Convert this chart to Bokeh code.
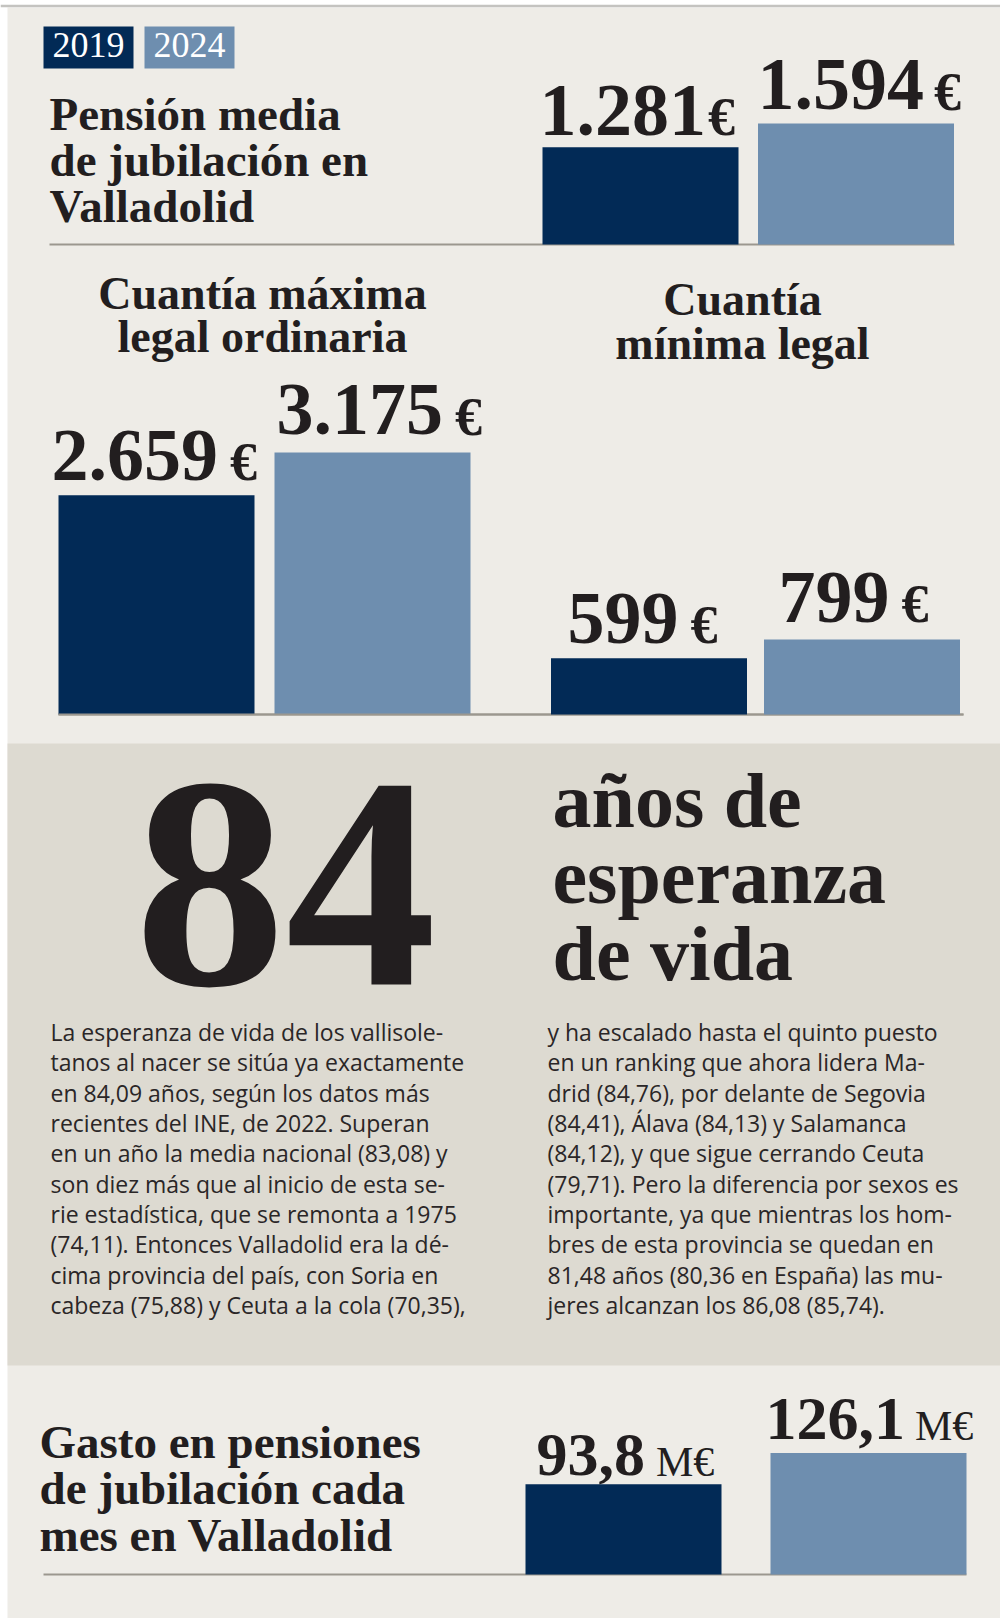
from bokeh.plotting import figure
from bokeh.models import Range1d, ColumnDataSource
from bokeh.core.properties import value
from bokeh.embed import file_html
from bokeh.resources import INLINE

# ---------------- data ----------------
years = ["2019", "2024"]
pension_media = [1281, 1594]          # €
cuantia_maxima = [2659, 3175]         # €
cuantia_minima = [599, 799]           # €
gasto_mensual = [93.8, 126.1]         # M€
esperanza_vida = 84

titulo_media = ["Pensión media", "de jubilación en", "Valladolid"]
titulo_maxima = ["Cuantía máxima", "legal ordinaria"]
titulo_minima = ["Cuantía", "mínima legal"]
titulo_gasto = ["Gasto en pensiones", "de jubilación cada", "mes en Valladolid"]
titulo_vida = ["años de", "esperanza", "de vida"]

texto_izq = [
    "La esperanza de vida de los vallisole-",
    "tanos al nacer se sitúa ya exactamente",
    "en 84,09 años, según los datos más",
    "recientes del INE, de 2022. Superan",
    "en un año la media nacional (83,08) y",
    "son diez más que al inicio de esta se-",
    "rie estadística, que se remonta a 1975",
    "(74,11). Entonces Valladolid era la dé-",
    "cima provincia del país, con Soria en",
    "cabeza (75,88) y Ceuta a la cola (70,35),",
]
texto_der = [
    "y ha escalado hasta el quinto puesto",
    "en un ranking que ahora lidera Ma-",
    "drid (84,76), por delante de Segovia",
    "(84,41), Álava (84,13) y Salamanca",
    "(84,12), y que sigue cerrando Ceuta",
    "(79,71). Pero la diferencia por sexos es",
    "importante, ya que mientras los hom-",
    "bres de esta provincia se quedan en",
    "81,48 años (80,36 en España) las mu-",
    "jeres alcanzan los 86,08 (85,74).",
]

# ---------------- style ----------------
NAVY = "#022a56"
LIGHT = "#6e8eaf"
BG = "#eeece7"
PANEL = "#dddad1"
INK = "#221e1f"
RULE = "#9b978f"
SERIF = value("Liberation Serif")
SANS = value("Open Sans")
K_SERIF = 0.35   # baseline correction of the svg text placement (in em)
K_SANS = 0.45
colors = [NAVY, LIGHT]

W, H = 1000, 1618
p = figure(width=W, height=H, x_range=Range1d(0, W), y_range=Range1d(H, 0),
           output_backend="svg", toolbar_location=None, min_border=0,
           x_axis_location=None, y_axis_location=None,
           background_fill_color="white", border_fill_color="white", outline_line_color=None)
p.grid.visible = False

# page background, top rule, middle grey panel
p.quad(left=[7], right=[W], top=[7], bottom=[H], color=BG, line_color=None)
p.segment(x0=[0], y0=[5.5], x1=[W], y1=[5.5], line_color="#c4c3c0", line_width=2.5)
p.quad(left=[7], right=[W], top=[743], bottom=[1365], color=PANEL, line_color=None)

# legend
leg_left = [43, 144]
p.quad(left=leg_left, right=[l + 90 for l in leg_left], top=[26, 26], bottom=[68, 68],
       color=colors, line_color=None)
p.text(x=[l + 45 for l in leg_left], y=[57 - K_SERIF * 36] * 2, text=years, text_color="white",
       text_font=SERIF, text_font_size="36px", text_align="center", text_baseline="alphabetic")


def fmt_eur(v):
    return f"{v:,}".replace(",", ".")


def fmt_dec(v):
    return f"{v:.1f}".replace(".", ",")


def num_width(s, size):
    return sum(0.5 if c.isdigit() else 0.25 for c in s) * size


def bar_panel(name, vals, labels, unit, centers, baseline, scale, label_x, gaps,
              num_size, unit_size, unit_style, label_dy, rule):
    p.extra_y_ranges[name] = Range1d(start=(baseline - H) / scale, end=baseline / scale)
    p.segment(x0=[rule[0]], y0=[baseline], x1=[rule[1]], y1=[baseline],
              line_color=RULE, line_width=2)
    src = ColumnDataSource(dict(x=centers, top=vals, color=colors))
    p.vbar(x="x", width=196, top="top", bottom=0, color="color", line_color=None,
           source=src, y_range_name=name)
    for i in range(2):
        p.text(x=[label_x[i]], y=[vals[i]], text=[labels[i]], y_range_name=name,
               y_offset=-(label_dy[i] + K_SERIF * num_size), text_font=SERIF,
               text_font_style="bold", text_font_size=f"{num_size}px", text_color=INK,
               text_align="left", text_baseline="alphabetic")
        ux = label_x[i] + num_width(labels[i], num_size) + gaps[i]
        p.text(x=[ux], y=[vals[i]], text=[unit], y_range_name=name,
               y_offset=-(label_dy[i] + K_SERIF * unit_size), text_font=SERIF,
               text_font_style=unit_style, text_font_size=f"{unit_size}px", text_color=INK,
               text_align="left", text_baseline="alphabetic")


# panel 1: pensión media
bar_panel("media", pension_media, [fmt_eur(v) for v in pension_media], "€",
          [640, 855.5], 244, 0.0759, [539, 757], [2, 10], 74, 54, "bold", [11, 13], [49, 954])
# panel 2: cuantía máxima
bar_panel("maxima", cuantia_maxima, [fmt_eur(v) for v in cuantia_maxima], "€",
          [156, 372], 714, 0.0825, [51, 276], [12, 12], 74, 54, "bold", [14, 17], [58, 963])
# panel 3: cuantía mínima
bar_panel("minima", cuantia_minima, [fmt_eur(v) for v in cuantia_minima], "€",
          [648.5, 861.5], 714, 0.094, [567, 778], [12, 12], 74, 54, "bold", [14, 16], [58, 963])
# panel 4: gasto mensual
bar_panel("gasto", gasto_mensual, [fmt_dec(v) for v in gasto_mensual], "M€",
          [623, 868], 1574, 0.963, [536, 765], [11, 10], 62, 42, "normal", [7, 12], [43, 966])


# titles
def lines(x, ys, txt, size, align="left", style="bold", k=K_SERIF):
    p.text(x=[x] * len(txt), y=[y - k * size for y in ys], text=txt, text_font=SERIF,
           text_font_style=style, text_font_size=f"{size}px", text_color=INK,
           text_align=align, text_baseline="alphabetic")


lines(49, [130, 176, 222], titulo_media, 47)
lines(262, [309, 352], titulo_maxima, 46, "center")
lines(742, [315, 359], titulo_minima, 46, "center")
lines(39, [1458, 1504, 1551], titulo_gasto, 47)

# body text
base = [1042 - K_SANS * 23 + 30.3 * i for i in range(len(texto_izq))]
p.text(x=[50] * len(texto_izq), y=base, text=texto_izq, text_font=SANS,
       text_font_size="23px", text_color="#2a2627", text_align="left", text_baseline="alphabetic")
p.text(x=[547] * len(texto_der), y=base, text=texto_der, text_font=SANS,
       text_font_size="23px", text_color="#2a2627", text_align="left", text_baseline="alphabetic")

# headline of the grey panel
lines(552, [827, 903, 980], titulo_vida, 78)

# big number (size avoids "bold N00px", which the svg font parser rejects)
p.text(x=[285], y=[983 - 0.325 * 302], text=[str(esperanza_vida)], text_font=SERIF,
       text_font_style="bold", text_font_size="302px", text_color=INK,
       text_align="center", text_baseline="alphabetic")

open("out.html", "w").write(file_html(p, INLINE))
